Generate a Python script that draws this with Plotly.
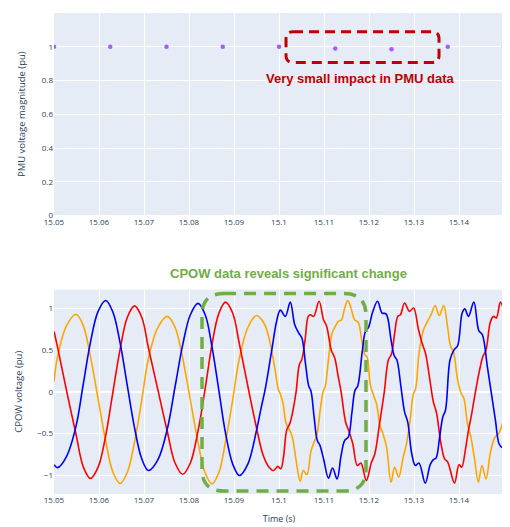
import plotly.graph_objects as go

# ---------------- PMU data (top) ----------------
pmu_t = [15.05, 15.0625, 15.075, 15.0875, 15.1, 15.1125, 15.125, 15.1375, 15.15]
pmu_v = [1.0, 1.0, 1.0, 1.0, 1.0, 0.99, 0.985, 1.0, 1.0]

# ---------------- CPOW data (bottom) ----------------
t_sine = [15.0500, 15.0508, 15.0528, 15.0549, 15.0565, 15.0581, 15.0598, 15.0615,
          15.0631, 15.0647, 15.0663, 15.0679, 15.0695, 15.0710, 15.0731, 15.0752,
          15.0769, 15.0786, 15.0803, 15.0820, 15.0836, 15.0851, 15.0866, 15.0881,
          15.0897, 15.0912, 15.0931, 15.0950]

blue_sine = [-0.87, -0.905, -0.77, -0.41, 0.09, 0.59, 0.96, 1.09,
             0.95, 0.58, 0.07, -0.43, -0.80, -0.94, -0.81, -0.44,
             0.06, 0.56, 0.92, 1.055, 0.92, 0.54, 0.03, -0.49,
             -0.86, -1.00, -0.86, -0.46]
red_sine = [0.72, 0.53, 0.01, -0.51, -0.895, -1.035, -0.90, -0.52,
            0.00, 0.51, 0.89, 1.025, 0.89, 0.52, 0.02, -0.48,
            -0.85, -0.985, -0.85, -0.47, 0.04, 0.56, 0.93, 1.07,
            0.94, 0.57, 0.06, -0.43]
orange_sine = [0.12, 0.42, 0.79, 0.925, 0.79, 0.42, -0.085, -0.59,
               -0.96, -1.095, -0.96, -0.60, -0.10, 0.40, 0.77, 0.90,
               0.77, 0.40, -0.10, -0.60, -0.97, -1.10, -0.97, -0.60,
               -0.10, 0.40, 0.77, 0.91]

blue_dist_t = [15.0960, 15.0970, 15.0984, 15.0995, 15.1003, 15.1014, 15.1025, 15.1035,
               15.1044, 15.1051, 15.1059, 15.1066, 15.1071, 15.1078, 15.1085, 15.1091,
               15.1099, 15.1110, 15.1119, 15.1129, 15.1138, 15.1146, 15.1154, 15.1162,
               15.1169, 15.1175, 15.1185, 15.1192, 15.1199, 15.1208, 15.1219, 15.1229,
               15.1238, 15.1249, 15.1256, 15.1262, 15.1271, 15.1279, 15.1286, 15.1295,
               15.1303, 15.1311, 15.1325, 15.1336, 15.1343, 15.1349, 15.1357, 15.1364,
               15.1370, 15.1380, 15.1389, 15.1397, 15.1407, 15.1413, 15.1421, 15.1433,
               15.1444, 15.1452, 15.1463, 15.1472, 15.1481, 15.1489, 15.1496, 15.1505]
blue_dist_v = [-0.20, 0.05, 0.50, 0.85, 0.975, 0.90, 1.07, 0.80,
               0.70, 0.64, 0.33, 0.07, 0.01, -0.30, -0.58, -0.64,
               -0.80, -1.03, -0.91, -1.04, -0.76, -0.58, -0.54, -0.25,
               0.02, 0.07, 0.48, 0.72, 0.77, 0.95, 1.08, 0.94,
               0.93, 0.62, 0.43, 0.38, 0.06, -0.24, -0.36, -0.74,
               -0.88, -0.85, -1.09, -0.87, -0.81, -0.79, -0.54, -0.30,
               -0.22, 0.38, 0.50, 0.55, 0.94, 0.99, 0.90, 1.07,
               0.73, 0.68, 0.30, -0.02, -0.34, -0.62, -0.665, -0.665]

red_dist_t = [15.0965, 15.0978, 15.0988, 15.0997, 15.1004, 15.1010, 15.1017, 15.1024,
              15.1030, 15.1038, 15.1045, 15.1051, 15.1058, 15.1065, 15.1070, 15.1077,
              15.1089, 15.1099, 15.1106, 15.1116, 15.1124, 15.1131, 15.1138, 15.1148,
              15.1156, 15.1164, 15.1174, 15.1182, 15.1194, 15.1205, 15.1213, 15.1224,
              15.1234, 15.1243, 15.1250, 15.1257, 15.1264, 15.1270, 15.1279, 15.1290,
              15.1299, 15.1310, 15.1318, 15.1326, 15.1335, 15.1343, 15.1350, 15.1360,
              15.1368, 15.1375, 15.1390, 15.1400, 15.1406, 15.1414, 15.1421, 15.1427,
              15.1434, 15.1445, 15.1453, 15.1460, 15.1470, 15.1477, 15.1483, 15.1492,
              15.1500]
red_dist_v = [-0.76, -0.90, -0.94, -0.89, -0.92, -0.78, -0.46, -0.38,
              -0.25, 0.00, 0.32, 0.39, 0.62, 0.90, 0.92, 0.90,
              1.08, 0.86, 0.78, 0.50, 0.40, 0.20, 0.00, -0.36,
              -0.48, -0.62, -0.88, -0.85, -1.06, -0.85, -0.74, -0.36,
              0.00, 0.38, 0.45, 0.70, 0.90, 0.92, 1.06, 0.96,
              1.00, 0.74, 0.58, 0.45, 0.15, -0.12, -0.25, -0.62,
              -0.80, -0.84, -1.09, -0.87, -0.90, -0.70, -0.46, -0.30,
              -0.08, 0.24, 0.42, 0.50, 0.84, 0.90, 0.88, 1.07,
              0.95]

orange_dist_t = [15.0960, 15.0970, 15.0980, 15.0991, 15.0998, 15.1003, 15.1009, 15.1016,
                 15.1024, 15.1030, 15.1038, 15.1047, 15.1054, 15.1062, 15.1071, 15.1078,
                 15.1084, 15.1092, 15.1098, 15.1103, 15.1110, 15.1118, 15.1125, 15.1132,
                 15.1139, 15.1146, 15.1153, 15.1160, 15.1168, 15.1176, 15.1183, 15.1190,
                 15.1196, 15.1203, 15.1210, 15.1217, 15.1224, 15.1231, 15.1239, 15.1249,
                 15.1257, 15.1266, 15.1276, 15.1283, 15.1292, 15.1298, 15.1304, 15.1311,
                 15.1320, 15.1328, 15.1338, 15.1347, 15.1356, 15.1366, 15.1374, 15.1381,
                 15.1388, 15.1397, 15.1405, 15.1411, 15.1419, 15.1426, 15.1434, 15.1443,
                 15.1451, 15.1460, 15.1470, 15.1479, 15.1488, 15.1500]
orange_dist_v = [0.87, 0.78, 0.59, 0.27, 0.04, -0.03, -0.14, -0.38,
                 -0.46, -0.55, -0.82, -1.07, -0.94, -0.99, -0.71, -0.60,
                 -0.52, -0.20, 0.00, 0.07, 0.39, 0.70, 0.78, 0.84,
                 0.86, 1.00, 1.09, 1.00, 0.86, 0.83, 0.65, 0.45,
                 0.41, 0.08, -0.04, -0.15, -0.39, -0.50, -0.66, -1.08,
                 -0.90, -1.02, -0.78, -0.63, -0.31, -0.04, 0.05, 0.45,
                 0.72, 0.82, 0.92, 1.03, 0.91, 1.03, 0.80, 0.55,
                 0.47, 0.14, -0.02, -0.08, -0.39, -0.53, -0.78, -1.08,
                 -0.88, -1.04, -0.72, -0.55, -0.50, -0.32]

x_ticks = [15.05, 15.06, 15.07, 15.08, 15.09, 15.1, 15.11, 15.12, 15.13, 15.14, 15.15]

fig = go.Figure()

fig.add_trace(go.Scatter(x=pmu_t, y=pmu_v, mode="markers",
                         marker=dict(color="#a45ef7", size=4.5),
                         xaxis="x", yaxis="y", showlegend=False))

for tt, vv, col in [
    (t_sine + orange_dist_t, orange_sine + orange_dist_v, "orange"),
    (t_sine + red_dist_t, red_sine + red_dist_v, "red"),
    (t_sine + blue_dist_t, blue_sine + blue_dist_v, "blue"),
]:
    fig.add_trace(go.Scatter(x=tt, y=vv, mode="lines",
                             line=dict(color=col, width=1.6, shape="spline", smoothing=1.0),
                             xaxis="x2", yaxis="y2", showlegend=False))

tickfont = dict(family="Open Sans, Arial", size=8, color="#2a3f5f")
ytitlefont = dict(family="Open Sans, Arial", size=9.5, color="#2a3f5f")
xtitlefont = dict(family="Open Sans, Arial", size=9, color="#2a3f5f")

# The page body adds an 8px offset, so the figure is sized to fit the window.
fig.update_layout(
    template="plotly",
    width=502, height=519,
    margin=dict(l=46, r=6, t=5, b=27),
    paper_bgcolor="white",
    plot_bgcolor="#E5ECF6",
    showlegend=False,
    xaxis=dict(domain=[0, 1], anchor="y", range=[15.05, 15.15], tickvals=x_ticks,
               tickfont=tickfont, gridcolor="white", zeroline=False),
    yaxis=dict(domain=[0.579, 1], anchor="x", range=[0, 1.2], dtick=0.2,
               tickfont=tickfont, gridcolor="white",
               title=dict(text="PMU voltage magnitude (pu)", font=ytitlefont, standoff=14)),
    xaxis2=dict(domain=[0, 1], anchor="y2", range=[15.05, 15.15], tickvals=x_ticks,
                tickfont=tickfont, gridcolor="white", zeroline=False,
                title=dict(text="Time (s)", font=xtitlefont, standoff=11)),
    yaxis2=dict(domain=[0, 0.425], anchor="x2", range=[-1.22, 1.22],
                tickvals=[-1, -0.5, 0, 0.5, 1], tickfont=tickfont, gridcolor="white",
                zerolinecolor="white", zerolinewidth=2,
                title=dict(text="CPOW voltage (pu)", font=ytitlefont, standoff=12)),
)

fig.add_annotation(text="<b>Very small impact in PMU data</b>", xref="paper", yref="paper",
                   x=0.682, y=0.864, xanchor="center", yanchor="middle", showarrow=False,
                   font=dict(family="Arial, Liberation Sans", size=13, color="#C00000"))
fig.add_annotation(text="<b>CPOW data reveals significant change</b>", xref="paper", yref="paper",
                   x=0.522, y=0.458, xanchor="center", yanchor="middle", showarrow=False,
                   font=dict(family="Arial, Liberation Sans", size=13, color="#70AD47"))


def rounded_path(x0, x1, y0, y1, rx, ry):
    return (f"M {x0+rx},{y1} L {x1-rx},{y1} Q {x1},{y1} {x1},{y1-ry} "
            f"L {x1},{y0+ry} Q {x1},{y0} {x1-rx},{y0} L {x0+rx},{y0} "
            f"Q {x0},{y0} {x0},{y0+ry} L {x0},{y1-ry} Q {x0},{y1} {x0+rx},{y1} Z")


fig.add_shape(type="path", xref="paper", yref="paper",
              path=rounded_path(0.5156, 0.8556, 0.8973, 0.9610, 0.0156, 0.0144),
              line=dict(color="#C00000", width=3, dash="10px,6px"))
fig.add_shape(type="path", xref="paper", yref="paper",
              path=rounded_path(0.3289, 0.6933, 0.0062, 0.4168, 0.049, 0.045),
              line=dict(color="#70AD47", width=3.5, dash="12px,8px"))

fig.write_html("out.html")
